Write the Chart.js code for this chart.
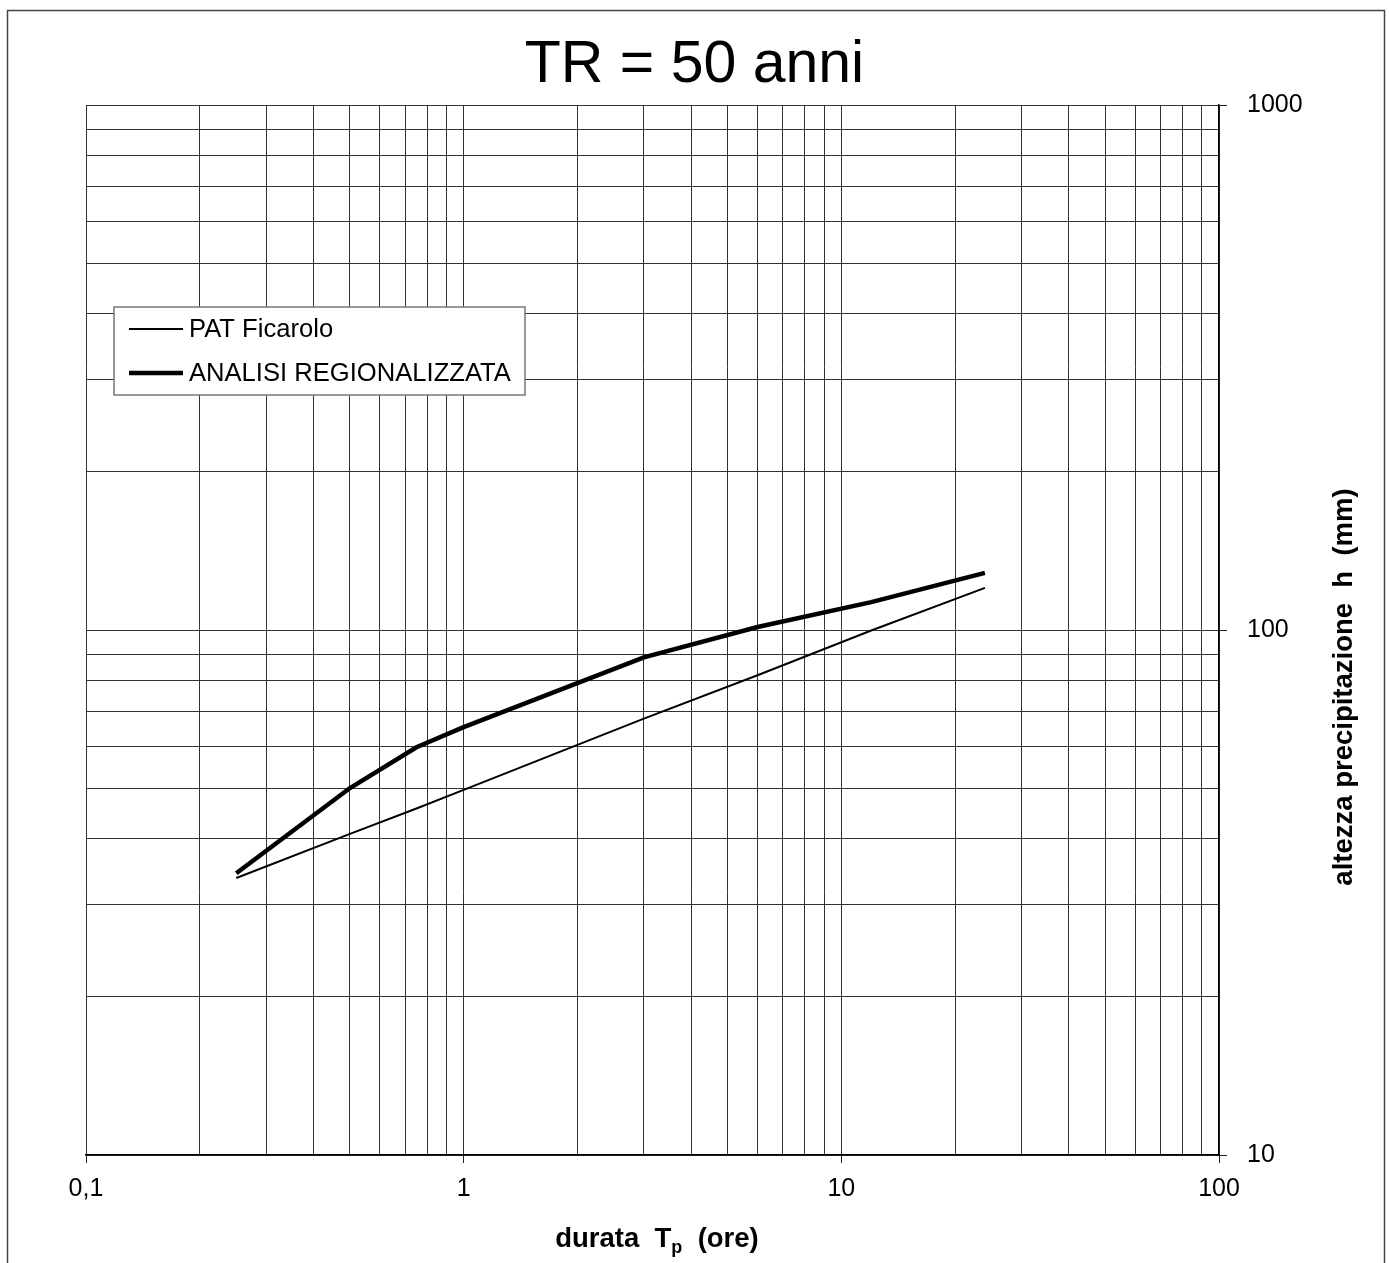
<!DOCTYPE html>
<html>
<head>
<meta charset="utf-8">
<title>TR = 50 anni</title>
<script src="https://cdn.jsdelivr.net/npm/chart.js@4.4.1/dist/chart.umd.min.js"></script>
<style>
    html, body { margin: 0; padding: 0; background: #ffffff; }
    #main { width: 1389px; height: 1263px; }
</style>
</head>
<body>
<div id="main"><canvas id="grafica" width="1389" height="1263"></canvas></div>
<script>
// Durate (ore) e altezze di pioggia (mm)
const durate = [0.25, 0.5, 0.75, 1, 3, 6, 12, 24];
const hFicarolo = [33.7, 40.9, 45.7, 49.6, 67.8, 82.0, 99.8, 120.3];
const hRegionale = [34.4, 50.0, 59.8, 65.3, 88.7, 101.3, 113.0, 128.5];

// Decadi degli assi e relative etichette
const decadiX = [0.1, 1, 10, 100];
const etichetteX = ['0,1', '1', '10', '100'];
const decadiY = [10, 100, 1000];
const etichetteY = ['10', '100', '1000'];
const passi = [1, 2, 3, 4, 5, 6, 7, 8, 9];

const FONT = "'Liberation Sans', Arial, sans-serif";

// linee di griglia: 1..9 per ogni decade
function griglia(decadi) {
    let valori = [];
    for (let i = 0; i < decadi.length - 1; i++) {
        passi.forEach(p => valori.push(+(decadi[i] * p).toPrecision(6)));
    }
    valori.push(decadi[decadi.length - 1]);
    return valori;
}

function etichetta(valore, decadi, etichette) {
    let i = decadi.findIndex(d => Math.abs(d - valore) < 1e-9);
    return i >= 0 ? etichette[i] : '';
}

function coloreTacca(decadi) {
    return function (ctx) {
        if (!ctx.tick) return 'rgba(0,0,0,0)';
        return decadi.some(d => Math.abs(d - ctx.tick.value) < 1e-9) ? '#222' : 'rgba(0,0,0,0)';
    };
}

function punti(ys) {
    return durate.map((x, i) => ({ x: x, y: ys[i] }));
}

// Cornice, titoli degli assi e legenda disegnati a mano
const cornice = {
    id: 'cornice',
    beforeDraw(chart) {
        const ctx = chart.ctx;
        ctx.save();
        ctx.fillStyle = '#ffffff';
        ctx.fillRect(0, 0, chart.width, chart.height);
        ctx.strokeStyle = '#444';
        ctx.lineWidth = 1.5;
        ctx.strokeRect(7.5, 10.5, 1377, 1300);
        ctx.restore();
    },
    afterDraw(chart) {
        const ctx = chart.ctx;
        ctx.save();
        ctx.fillStyle = '#000';

        // titolo asse x con pedice
        const grande = 'bold 27.5px ' + FONT;
        const piccolo = 'bold 18px ' + FONT;
        ctx.font = grande;
        ctx.textBaseline = 'alphabetic';
        ctx.textAlign = 'left';
        let p1 = 'durata  T', p2 = 'p', p3 = '  (ore)';
        let w1 = ctx.measureText(p1).width;
        let w3 = ctx.measureText(p3).width;
        ctx.font = piccolo;
        let w2 = ctx.measureText(p2).width;
        let x0 = 657 - (w1 + w2 + w3) / 2;
        let yb = 1247;
        ctx.font = grande;
        ctx.fillText(p1, x0, yb);
        ctx.font = piccolo;
        ctx.fillText(p2, x0 + w1, yb + 6);
        ctx.font = grande;
        ctx.fillText(p3, x0 + w1 + w2, yb);

        // titolo asse y, ruotato
        ctx.save();
        ctx.translate(1344, 687);
        ctx.rotate(-Math.PI / 2);
        ctx.textAlign = 'center';
        ctx.textBaseline = 'middle';
        ctx.fillText('altezza precipitazione  h  (mm)', 0, 0);
        ctx.restore();

        // legenda
        ctx.fillStyle = '#ffffff';
        ctx.fillRect(114, 307, 411, 88);
        ctx.strokeStyle = '#777';
        ctx.lineWidth = 1.5;
        ctx.strokeRect(114, 307, 411, 88);
        ctx.font = '25.6px ' + FONT;
        ctx.textBaseline = 'middle';
        ctx.textAlign = 'left';
        chart.data.datasets.forEach((ds, i) => {
            let y = 329 + i * 44;
            ctx.strokeStyle = ds.borderColor;
            ctx.lineWidth = ds.borderWidth;
            ctx.beginPath();
            ctx.moveTo(129, y);
            ctx.lineTo(183, y);
            ctx.stroke();
            ctx.fillStyle = '#000';
            ctx.fillText(ds.label, 189, y + 1);
        });
        ctx.restore();
    }
};

let canvas = document.getElementById('grafica');

new Chart(canvas, {
    type: 'line',
    data: {
        datasets: [
            {
                label: 'PAT Ficarolo',
                data: punti(hFicarolo),
                borderColor: '#000',
                borderWidth: 2,
                pointRadius: 0,
                tension: 0,
                fill: false
            },
            {
                label: 'ANALISI REGIONALIZZATA',
                data: punti(hRegionale),
                borderColor: '#000',
                borderWidth: 4.5,
                pointRadius: 0,
                tension: 0,
                fill: false
            }
        ]
    },
    options: {
        responsive: false,
        animation: false,
        layout: { padding: 0 },
        scales: {
            x: {
                type: 'logarithmic',
                min: 0.1,
                max: 100,
                afterBuildTicks: scale => { scale.ticks = griglia(decadiX).map(v => ({ value: v })); },
                afterFit: scale => { scale.height = 108; },
                ticks: {
                    autoSkip: false,
                    maxRotation: 0,
                    padding: 11,
                    color: '#000',
                    font: { family: FONT, size: 25 },
                    callback: v => etichetta(v, decadiX, etichetteX)
                },
                grid: {
                    color: '#333',
                    lineWidth: 1,
                    tickLength: 8,
                    tickColor: coloreTacca(decadiX)
                },
                border: { color: '#000', width: 1.5 }
            },
            y: {
                type: 'logarithmic',
                position: 'right',
                min: 10,
                max: 1000,
                afterBuildTicks: scale => { scale.ticks = griglia(decadiY).map(v => ({ value: v })); },
                afterFit: scale => { scale.width = 170; },
                ticks: {
                    autoSkip: false,
                    padding: 20,
                    color: '#000',
                    font: { family: FONT, size: 25 },
                    callback: v => etichetta(v, decadiY, etichetteY)
                },
                grid: {
                    color: '#333',
                    lineWidth: 1,
                    tickLength: 8,
                    tickColor: coloreTacca(decadiY)
                },
                border: { color: '#000', width: 1.5 }
            },
            // margine vuoto a sinistra dell'area del grafico
            margine: {
                type: 'linear',
                position: 'left',
                afterFit: scale => { scale.width = 86; },
                ticks: { display: false },
                grid: { display: false, drawTicks: false },
                border: { display: false }
            }
        },
        plugins: {
            legend: { display: false },
            tooltip: { enabled: false },
            title: {
                display: true,
                text: 'TR = 50 anni',
                color: '#000',
                font: { family: FONT, size: 59, weight: 'normal', lineHeight: 1.2 },
                padding: { top: 30, bottom: 4.2 }
            }
        }
    },
    plugins: [cornice]
});
</script>
</body>
</html>
